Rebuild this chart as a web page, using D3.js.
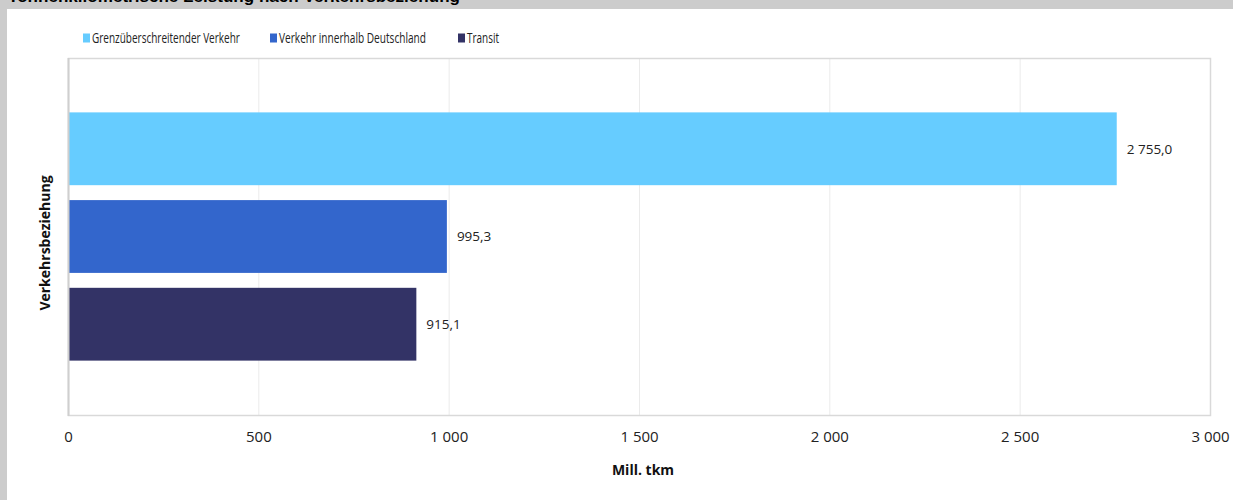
<!DOCTYPE html>
<html>
<head>
<meta charset="utf-8">
<script src="https://cdn.jsdelivr.net/npm/d3@7"></script>
<style>
  html, body { margin: 0; padding: 0; background: #cccccc; }
  svg { display: block; }
</style>
</head>
<body>
<svg id="chart" width="1233" height="500"></svg>
<script>
// ---- data ----
const title = "Tonnenkilometrische Leistung nach Verkehrsbeziehung";
const series = ["Grenzüberschreitender Verkehr", "Verkehr innerhalb Deutschland", "Transit"];
const values = [2755.0, 995.3, 915.1];
const colors = ["#66CCFF", "#3366CC", "#333366"];
const xTicks = [0, 500, 1000, 1500, 2000, 2500, 3000];
const xTitle = "Mill. tkm";
const yTitle = "Verkehrsbeziehung";

// ---- layout ----
const W = 1233, H = 500;
const plot = { left: 68, right: 1210, top: 58, bottom: 415 };
const svg = d3.select("#chart");
const de = d3.formatLocale({ decimal: ",", thousands: " ", grouping: [3], currency: ["", " €"] });
const fmtTick = de.format(",.0f");
const fmtVal = de.format(",.1f");
const fontMain = "'Open Sans', 'Noto Sans', sans-serif";

// background frame + title (peeking above the white panel)
svg.append("rect").attr("width", W).attr("height", H).attr("fill", "#cccccc");
svg.append("text").attr("x", 8).attr("y", 2)
  .attr("font-family", "'Liberation Sans', Arial, sans-serif")
  .attr("font-weight", "bold").attr("font-size", 16).attr("fill", "#000")
  .attr("textLength", 452).attr("lengthAdjust", "spacingAndGlyphs")
  .text(title);
svg.append("rect").attr("x", 7).attr("y", 9).attr("width", W - 7).attr("height", H - 9).attr("fill", "#ffffff");

// scales
const x = d3.scaleLinear().domain([0, 3000]).range([plot.left, plot.right]);
const y = d3.scaleBand().domain(series).range([plot.top, plot.bottom])
  .paddingInner(0.17).paddingOuter(0.62);

// gridlines
svg.append("g").selectAll("line").data(xTicks.slice(1, -1)).join("line")
  .attr("x1", d => x(d) + 0.5).attr("x2", d => x(d) + 0.5)
  .attr("y1", plot.top).attr("y2", plot.bottom)
  .attr("stroke", "#ebebeb").attr("stroke-width", 1);

// plot border
svg.append("rect").attr("x", plot.left + 0.5).attr("y", plot.top + 0.5)
  .attr("width", plot.right - plot.left).attr("height", plot.bottom - plot.top)
  .attr("fill", "none").attr("stroke", "#d9d9d9").attr("stroke-width", 1.5);

// bars
svg.append("g").selectAll("rect").data(series).join("rect")
  .attr("x", x(0)).attr("y", d => y(d))
  .attr("width", (d, i) => x(values[i]) - x(0))
  .attr("height", y.bandwidth())
  .attr("fill", (d, i) => colors[i]);

// left axis line over bars
svg.append("line").attr("x1", plot.left + 0.5).attr("x2", plot.left + 0.5)
  .attr("y1", plot.top).attr("y2", plot.bottom + 1)
  .attr("stroke", "#cfcfcf").attr("stroke-width", 2);

// value labels
svg.append("g").selectAll("text").data(series).join("text")
  .attr("x", (d, i) => x(values[i]) + 10)
  .attr("y", d => y(d) + y.bandwidth() / 2)
  .attr("dy", "0.35em")
  .attr("font-family", fontMain).attr("font-size", 13.5).attr("fill", "#222")
  .text((d, i) => fmtVal(values[i]));

// x axis tick labels
const xAxis = d3.axisBottom(x).tickValues(xTicks).tickSize(0).tickPadding(0).tickFormat(fmtTick);
const gx = svg.append("g").attr("transform", `translate(0,${plot.bottom})`).call(xAxis);
gx.select(".domain").remove();
gx.selectAll("text").attr("y", 22).attr("dy", "0.35em")
  .attr("font-family", fontMain).attr("font-size", 15).attr("fill", "#222");

// axis titles
svg.append("text").attr("x", 643).attr("y", 470).attr("dy", "0.35em")
  .attr("text-anchor", "middle").attr("font-family", fontMain)
  .attr("font-weight", "bold").attr("font-size", 14).attr("fill", "#111").text(xTitle);
svg.append("text").attr("transform", "translate(45,243) rotate(-90)").attr("dy", "0.35em")
  .attr("text-anchor", "middle").attr("font-family", fontMain)
  .attr("font-weight", "bold").attr("font-size", 14).attr("fill", "#111").text(yTitle);

// legend
const legendX = [83, 270, 458];
const legendW = [148, 147, 32];
const lg = svg.append("g").selectAll("g").data(series).join("g")
  .attr("transform", (d, i) => `translate(${legendX[i]},38)`);
lg.append("rect").attr("x", 0).attr("y", -4.5).attr("width", 7).attr("height", 9)
  .attr("fill", (d, i) => colors[i]);
lg.append("text").attr("x", 0).attr("y", 0).attr("dy", "0.35em")
  .attr("font-family", fontMain).attr("font-size", 14.5).attr("fill", "#222")
  .text(d => d)
  .each(function (d, i) {
    // condense the glyphs horizontally so the label fits its legend slot
    const w = this.getComputedTextLength();
    const sx = Math.min(1, legendW[i] / w);
    d3.select(this).attr("transform", `translate(9,0) scale(${sx},1)`);
  });
</script>
</body>
</html>
